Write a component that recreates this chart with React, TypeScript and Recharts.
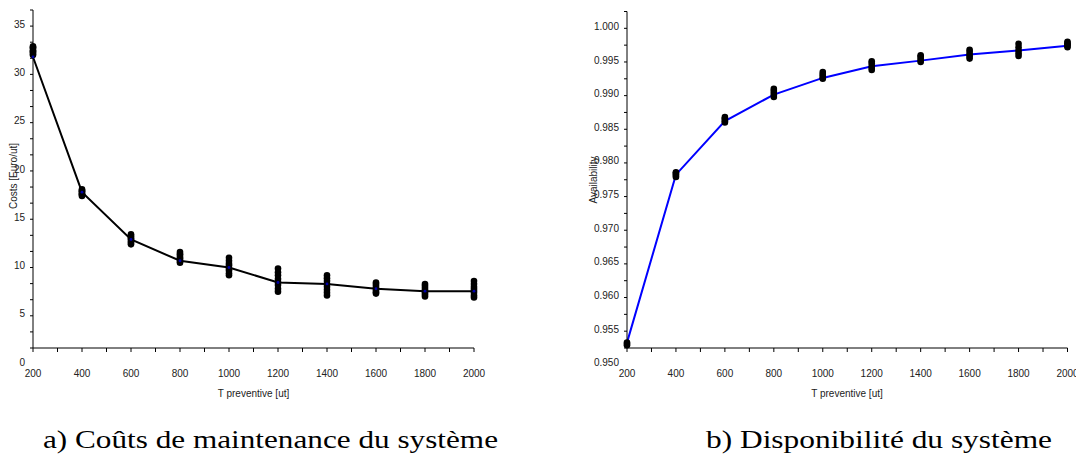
import React from 'react';
import { ComposedChart, Line, Scatter, XAxis, YAxis } from 'recharts';

// ---------- data ----------
const tValues = [200, 400, 600, 800, 1000, 1200, 1400, 1600, 1800, 2000];

const costMean = [31.8, 17.8, 12.9, 10.7, 10.0, 8.45, 8.3, 7.8, 7.55, 7.55];
const costSamples = [
  [32.0, 32.1, 32.3, 32.4, 32.5, 32.7, 32.8, 32.9],
  [17.4, 17.5, 17.6, 17.7, 17.85, 17.9, 18.0, 18.1],
  [12.4, 12.55, 12.7, 12.9, 13.0, 13.15, 13.3, 13.45],
  [10.5, 10.6, 10.8, 10.95, 11.1, 11.3, 11.4, 11.6],
  [9.2, 9.4, 9.7, 9.9, 10.2, 10.4, 10.7, 11.0],
  [7.5, 7.8, 8.2, 8.5, 8.8, 9.2, 9.5, 9.9],
  [7.1, 7.4, 7.7, 8.0, 8.3, 8.6, 8.9, 9.2],
  [7.3, 7.45, 7.6, 7.8, 7.9, 8.1, 8.3, 8.45],
  [7.0, 7.2, 7.4, 7.55, 7.7, 7.9, 8.1, 8.3],
  [6.9, 7.1, 7.4, 7.6, 7.8, 8.0, 8.3, 8.6],
];

const availMean = [0.9533, 0.97826, 0.98623, 0.99015, 0.99263, 0.99435, 0.9952, 0.9961, 0.9967, 0.99742];
const availSamples = [
  [0.9529, 0.9531, 0.9533],
  [0.9779, 0.9781, 0.9783, 0.9785, 0.9786],
  [0.986, 0.9862, 0.9864, 0.9866, 0.9868],
  [0.9898, 0.9901, 0.9904, 0.9907, 0.991],
  [0.9925, 0.9927, 0.993, 0.9932, 0.9935],
  [0.9938, 0.9941, 0.9944, 0.9948, 0.9951],
  [0.995, 0.9952, 0.9955, 0.9958, 0.996],
  [0.9955, 0.9958, 0.9961, 0.9965, 0.9968],
  [0.9959, 0.9963, 0.9967, 0.9972, 0.9977],
  [0.9972, 0.9974, 0.9976, 0.9978, 0.998],
];

const xTicks = [200, 300, 400, 500, 600, 700, 800, 900, 1000, 1100, 1200, 1300, 1400, 1500, 1600, 1700, 1800, 1900, 2000];
const xLabelValues = [200, 400, 600, 800, 1000, 1200, 1400, 1600, 1800, 2000];

const costYTicks = [5 / 3, 10 / 3, 5, 20 / 3, 25 / 3, 10, 35 / 3, 40 / 3, 15, 50 / 3, 55 / 3, 20, 65 / 3, 70 / 3, 25, 80 / 3, 85 / 3, 30, 95 / 3, 100 / 3, 35, 110 / 3];
const costYLabelValues = [5, 10, 15, 20, 25, 30, 35];
const costBottomLabel = '0';

const availYTicks = [0.9525, 0.955, 0.9575, 0.96, 0.9625, 0.965, 0.9675, 0.97, 0.9725, 0.975, 0.9775, 0.98, 0.9825, 0.985, 0.9875, 0.99, 0.9925, 0.995, 0.9975, 1.0, 1.0025];
const availYLabelValues = [0.955, 0.96, 0.965, 0.97, 0.975, 0.98, 0.985, 0.99, 0.995, 1.0];
const availBottomLabel = '0.950';

const xTitle = 'T preventive [ut]';
const costTitle = 'Costs [Euro/ut]';
const availTitle = 'Availability';
const captionA = 'a) Coûts de maintenance du système';
const captionB = 'b) Disponibilité du système';

// ---------- derived tables ----------
const costLine = tValues.map((t, i) => ({ t, v: costMean[i] }));
const costPts = tValues.flatMap((t, i) => costSamples[i].map((v) => ({ t, v })));
const availLine = tValues.map((t, i) => ({ t, v: availMean[i] }));
const availPts = tValues.flatMap((t, i) => availSamples[i].map((v) => ({ t, v })));

const FONT = '"Liberation Sans", Arial, sans-serif';
const SERIF = '"Liberation Serif", "Times New Roman", serif';
const TXT = '#222';

const near = (a: number, b: number, eps: number) => Math.abs(a - b) < eps;

const XTick = (props: any) => {
  const { x, y, payload } = props;
  const v = payload.value;
  if (!xLabelValues.some((l) => near(l, v, 0.5))) return <g />;
  return (
    <text x={x} y={y} dy="0.71em" textAnchor="middle" fontSize={10} fontFamily={FONT} fill={TXT}>
      {String(v)}
    </text>
  );
};

const makeYTick = (labels: number[], bottomVal: number, bottomText: string, fmt: (v: number) => string, eps: number) => (props: any) => {
  const { x, y, payload } = props;
  const v = payload.value;
  if (near(v, bottomVal, eps)) {
    return (
      <text x={x} y={y + 14} dy="0.355em" textAnchor="end" fontSize={10} fontFamily={FONT} fill={TXT}>
        {bottomText}
      </text>
    );
  }
  const hit = labels.find((l) => near(l, v, eps));
  if (hit === undefined) return <g />;
  return (
    <text x={x} y={y - 2} dy="0.355em" textAnchor="end" fontSize={10} fontFamily={FONT} fill={TXT}>
      {fmt(hit)}
    </text>
  );
};

const CostYTick = makeYTick(costYLabelValues, 5 / 3, costBottomLabel, (v) => String(v), 0.01);
const AvailYTick = makeYTick(availYLabelValues, 0.9525, availBottomLabel, (v) => v.toFixed(3), 0.0001);

const Dot = (props: any) => <circle cx={props.cx} cy={props.cy} r={3.3} fill="#000" />;

export default function App() {
  return (
    <div style={{ position: 'absolute', left: 0, top: 0, width: 1076, height: 457, background: '#fff', overflow: 'hidden' }}>
      <div style={{ position: 'absolute', left: 0, top: 0 }}>
        <ComposedChart width={490} height={400} margin={{ top: 10, right: 16, bottom: 0, left: 0 }}>
          <XAxis
            type="number"
            dataKey="t"
            domain={[200, 2000]}
            ticks={xTicks}
            interval={0}
            height={52}
            tickSize={4}
            tickMargin={18}
            tick={<XTick />}
            axisLine={{ stroke: '#000' }}
            tickLine={{ stroke: '#000' }}
          />
          <YAxis
            type="number"
            dataKey="v"
            domain={[5 / 3, 110 / 3]}
            ticks={costYTicks}
            interval={0}
            width={33}
            tickSize={3}
            tickMargin={5}
            tick={<CostYTick />}
            axisLine={{ stroke: '#000' }}
            tickLine={{ stroke: '#000' }}
          />
          <Scatter data={costPts} dataKey="v" shape={<Dot />} isAnimationActive={false} />
          <Line
            data={costLine}
            dataKey="v"
            type="linear"
            stroke="#000"
            strokeWidth={2}
            dot={{ r: 1.4, fill: '#0000aa', stroke: 'none' }}
            isAnimationActive={false}
          />
        </ComposedChart>
      </div>
      <div style={{ position: 'absolute', left: 540, top: 0 }}>
        <ComposedChart width={536} height={400} margin={{ top: 11.5, right: 8.5, bottom: 0, left: 0 }}>
          <XAxis
            type="number"
            dataKey="t"
            domain={[200, 2000]}
            ticks={xTicks}
            interval={0}
            height={52}
            tickSize={4}
            tickMargin={18}
            tick={<XTick />}
            axisLine={{ stroke: '#000' }}
            tickLine={{ stroke: '#000' }}
          />
          <YAxis
            type="number"
            dataKey="v"
            domain={[0.9525, 1.0025]}
            ticks={availYTicks}
            interval={0}
            width={87}
            tickSize={3}
            tickMargin={5}
            tick={<AvailYTick />}
            axisLine={{ stroke: '#000' }}
            tickLine={{ stroke: '#000' }}
          />
          <Scatter data={availPts} dataKey="v" shape={<Dot />} isAnimationActive={false} />
          <Line data={availLine} dataKey="v" type="linear" stroke="#0000ff" strokeWidth={2} dot={false} isAnimationActive={false} />
        </ComposedChart>
      </div>
      <svg width={1076} height={457} style={{ position: 'absolute', left: 0, top: 0, pointerEvents: 'none' }}>
        <text x={253.5} y={397} textAnchor="middle" fontSize={10} fontFamily={FONT} fill={TXT}>{xTitle}</text>
        <text x={847} y={397} textAnchor="middle" fontSize={10} fontFamily={FONT} fill={TXT}>{xTitle}</text>
        <text x={17} y={176} textAnchor="middle" fontSize={10} fontFamily={FONT} fill={TXT} transform="rotate(-90 17 176)">{costTitle}</text>
        <text x={597} y={180} textAnchor="middle" fontSize={10} fontFamily={FONT} fill={TXT} transform="rotate(-90 597 180)">{availTitle}</text>
        <text x={43} y={448} fontSize={26} fontFamily={SERIF} fill="#000" textLength={455} lengthAdjust="spacingAndGlyphs">{captionA}</text>
        <text x={706} y={448} fontSize={26} fontFamily={SERIF} fill="#000" textLength={346} lengthAdjust="spacingAndGlyphs">{captionB}</text>
      </svg>
    </div>
  );
}
